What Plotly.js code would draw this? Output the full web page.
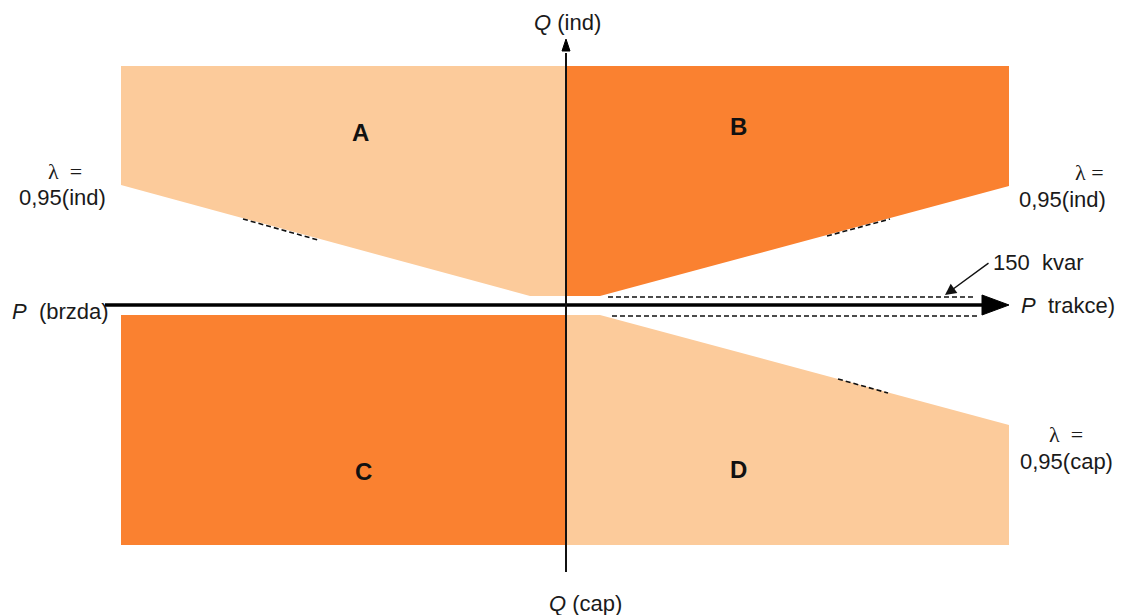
<!DOCTYPE html>
<html>
<head>
<meta charset="utf-8">
<script src="https://cdn.plot.ly/plotly-3.0.1.min.js"></script>
<style>html,body{margin:0;padding:0;background:#fff;}#chart{width:1122px;height:615px;}</style>
</head>
<body>
<div id="chart"></div>
<script>
// Region polygons (P on x, Q on y)
var regionNames = ["A", "B", "C", "D"];
var regionX = [
  [-445, 0, 0, -36, -445],
  [0, 443, 443, 34, 0],
  [-445, 0, 0, -445],
  [0, 34, 443, 443, 0]
];
var regionY = [
  [239, 239, 9, 9, 120],
  [239, 239, 119, 9, 9],
  [-10, -10, -240, -240],
  [-10, -10, -120, -240, -240]
];
var regionColors = ["#FCCB9B", "#FA8130", "#FA8130", "#FCCB9B"];
var labelX = [-206, 172, -203, 172];
var labelY = [173, 179, -166, -164];

// 150 kvar band (dashed)
var bandUpperX = [42, 408];
var bandUpperY = [8, 8];
var bandLowerX = [46, 414];
var bandLowerY = [-11, -11];

// dashed continuations along the λ = 0,95 limits
var dashAX = [-323, -248];
var dashAY = [86, 65];
var dashBX = [261, 324];
var dashBY = [69, 86];
var dashDX = [272, 322];
var dashDY = [-74, -88];

var traces = [];
for (var i = 0; i < regionNames.length; i++) {
  traces.push({
    x: regionX[i], y: regionY[i], type: "scatter", mode: "lines",
    fill: "toself", fillcolor: regionColors[i],
    line: {width: 0, color: regionColors[i]}, hoverinfo: "skip", showlegend: false
  });
}
var dashStyle = {color: "#111", width: 1.6, dash: "5px,3px"};
[[bandUpperX, bandUpperY], [bandLowerX, bandLowerY], [dashAX, dashAY], [dashBX, dashBY], [dashDX, dashDY]].forEach(function (d) {
  traces.push({x: d[0], y: d[1], type: "scatter", mode: "lines", line: dashStyle, hoverinfo: "skip", showlegend: false});
});

var font = {family: "Liberation Sans, Arial, sans-serif", size: 22, color: "#1a1a1a"};
var lamFont = {family: "Liberation Serif, serif", size: 22, color: "#1a1a1a"};
var annotations = [];
for (var j = 0; j < regionNames.length; j++) {
  annotations.push({x: labelX[j], y: labelY[j], xref: "x", yref: "y", text: "<b>" + regionNames[j] + "</b>", showarrow: false,
    font: {family: "Liberation Sans, Arial, sans-serif", size: 24, color: "#111"}});
}
function txt(x, y, t, anchor, f) {
  annotations.push({x: x, y: y, xref: "x", yref: "y", text: t, showarrow: false, xanchor: anchor || "center", yanchor: "middle", font: f || font});
}
txt(1, 283, "<i>Q</i> (ind)");
txt(19, -298, "<i>Q</i> (cap)");
txt(-556, -6, "<i>P</i>  (brzda)", "left");
txt(453, 0, "<i>P</i>  trakce)", "left");
txt(-501, 134, "λ  =", "center", lamFont);
txt(-504, 108, "0,95(ind)");
txt(523, 133, "λ =", "center", lamFont);
txt(496, 106, "0,95(ind)");
txt(500, -129, "λ  =", "center", lamFont);
txt(500, -156, "0,95(cap)");
txt(425, 43, "150  kvar", "left");
// arrow for 150 kvar
annotations.push({x: 379, y: 10, ax: 424, ay: 43, xref: "x", yref: "y", axref: "x", ayref: "y", text: "", showarrow: true,
  arrowhead: 2, arrowsize: 1.6, arrowwidth: 1.4, arrowcolor: "#111"});

var shapes = [
  // horizontal P axis
  {type: "line", xref: "x", yref: "y", x0: -461, y0: 0, x1: 420, y1: 0, line: {color: "#000", width: 3.5}},
  {type: "path", xref: "x", yref: "y", path: "M 443 0 L 416 10 L 416 -10 Z", fillcolor: "#000", line: {color: "#000", width: 1}},
  // vertical Q axis
  {type: "line", xref: "x", yref: "y", x0: 0, y0: -267, x1: 0, y1: 252, line: {color: "#111", width: 2}},
  {type: "path", xref: "x", yref: "y", path: "M 0 266 L -4 254 L 4 254 Z", fillcolor: "#000", line: {color: "#000", width: 1}}
];

var layout = {
  width: 1122, height: 615,
  margin: {l: 0, r: 0, t: 0, b: 0},
  paper_bgcolor: "#fff", plot_bgcolor: "#fff",
  xaxis: {range: [-566, 556], visible: false, fixedrange: true},
  yaxis: {range: [-310, 305], visible: false, fixedrange: true},
  annotations: annotations, shapes: shapes, showlegend: false
};
Plotly.newPlot("chart", traces, layout, {staticPlot: true});
</script>
</body>
</html>
